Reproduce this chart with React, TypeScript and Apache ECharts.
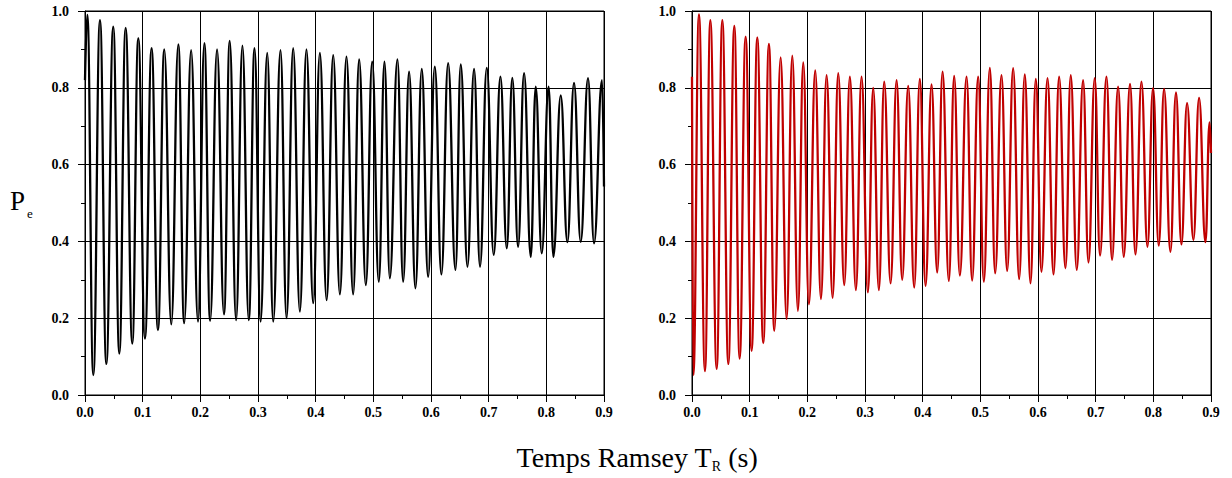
import React, { useEffect, useRef } from "react";
import * as echarts from "echarts";

// Left panel (black) — extrema
const leftT = [0, 0.004, 0.0144, 0.026, 0.037, 0.049, 0.0595, 0.0705, 0.082, 0.0924, 0.104, 0.1155, 0.1265, 0.1375, 0.1496, 0.1618, 0.172, 0.184, 0.196, 0.207, 0.217, 0.229, 0.241, 0.251, 0.262, 0.273, 0.284, 0.294, 0.3045, 0.316, 0.3264, 0.339, 0.3495, 0.361, 0.3726, 0.384, 0.3957, 0.4073, 0.419, 0.4304, 0.442, 0.4534, 0.465, 0.4754, 0.487, 0.498, 0.5095, 0.5193, 0.5286, 0.5418, 0.5517, 0.562, 0.573, 0.584, 0.595, 0.6066, 0.618, 0.6297, 0.6424, 0.6516, 0.6632, 0.6747, 0.685, 0.6967, 0.7088, 0.7204, 0.7314, 0.741, 0.751, 0.7614, 0.773, 0.7816, 0.792, 0.804, 0.8122, 0.825, 0.8365, 0.848, 0.8596, 0.8723, 0.8827, 0.8966, 0.9];
const leftP = [0.82, 0.99, 0.052, 0.976, 0.081, 0.959, 0.108, 0.956, 0.134, 0.929, 0.147, 0.903, 0.169, 0.9, 0.184, 0.913, 0.187, 0.898, 0.191, 0.916, 0.193, 0.9, 0.21, 0.922, 0.195, 0.91, 0.195, 0.903, 0.191, 0.891, 0.191, 0.898, 0.2, 0.903, 0.217, 0.9, 0.239, 0.891, 0.247, 0.885, 0.262, 0.881, 0.262, 0.874, 0.286, 0.868, 0.295, 0.868, 0.304, 0.874, 0.295, 0.842, 0.278, 0.849, 0.308, 0.855, 0.314, 0.864, 0.326, 0.861, 0.334, 0.849, 0.334, 0.852, 0.365, 0.829, 0.382, 0.826, 0.386, 0.838, 0.36, 0.803, 0.369, 0.803, 0.36, 0.78, 0.398, 0.813, 0.399, 0.825, 0.395, 0.82, 0.543];

// Right panel (red)
const rightT = [0, 0.0023, 0.0121, 0.0225, 0.0318, 0.0428, 0.0526, 0.063, 0.0734, 0.0826, 0.093, 0.1034, 0.1132, 0.1236, 0.1334, 0.1427, 0.1537, 0.1641, 0.1739, 0.1837, 0.1929, 0.2028, 0.2137, 0.2236, 0.2334, 0.2438, 0.2536, 0.264, 0.2738, 0.2842, 0.294, 0.305, 0.3142, 0.3241, 0.3333, 0.3444, 0.3548, 0.3645, 0.3749, 0.3853, 0.3951, 0.405, 0.4154, 0.4252, 0.4345, 0.4454, 0.4546, 0.4645, 0.4761, 0.4858, 0.4962, 0.5061, 0.5165, 0.5257, 0.5367, 0.5465, 0.5569, 0.5673, 0.5771, 0.587, 0.5962, 0.606, 0.6165, 0.6269, 0.6366, 0.6476, 0.6568, 0.6672, 0.6782, 0.6875, 0.6984, 0.7076, 0.7187, 0.7284, 0.7389, 0.7487, 0.7596, 0.769, 0.7794, 0.7898, 0.7995, 0.8094, 0.8186, 0.8296, 0.8393, 0.8487, 0.8585, 0.8695, 0.8793, 0.8904, 0.8975, 0.9];
const rightP = [0.829, 0.052, 0.991, 0.0625, 0.976, 0.068, 0.976, 0.081, 0.961, 0.095, 0.933, 0.115, 0.931, 0.135, 0.914, 0.167, 0.879, 0.198, 0.884, 0.219, 0.866, 0.236, 0.845, 0.25, 0.833, 0.253, 0.838, 0.286, 0.829, 0.273, 0.829, 0.267, 0.8, 0.273, 0.816, 0.291, 0.82, 0.3, 0.805, 0.28, 0.823, 0.284, 0.809, 0.319, 0.842, 0.297, 0.831, 0.311, 0.829, 0.298, 0.829, 0.295, 0.852, 0.317, 0.833, 0.323, 0.851, 0.302, 0.835, 0.291, 0.823, 0.321, 0.825, 0.314, 0.829, 0.33, 0.833, 0.326, 0.82, 0.345, 0.825, 0.363, 0.829, 0.352, 0.803, 0.36, 0.81, 0.366, 0.816, 0.386, 0.799, 0.389, 0.797, 0.373, 0.788, 0.392, 0.76, 0.404, 0.774, 0.398, 0.71, 0.63];

const xTickLabels = ["0.0", "0.1", "0.2", "0.3", "0.4", "0.5", "0.6", "0.7", "0.8", "0.9"];
const yTickLabels = ["0.0", "0.2", "0.4", "0.6", "0.8", "1.0"];
const xTitle = "Temps Ramsey T";
const xTitleSub = "R";
const xTitleUnit = " (s)";
const yTitle = "P";
const yTitleSub = "e";

const SERIF = "'Liberation Serif', 'Times New Roman', serif";

function makeX(gridIndex: number) {
  return {
    type: "value",
    gridIndex,
    min: 0,
    max: 0.9,
    interval: 0.1,
    axisLine: { show: true, onZero: false, lineStyle: { color: "#000", width: 1 } },
    axisTick: { show: true, inside: false, length: 7, lineStyle: { color: "#000", width: 1 } },
    minorTick: { show: true, splitNumber: 2, length: 4, lineStyle: { color: "#000", width: 1 } },
    splitLine: { show: true, lineStyle: { color: "#000", width: 1 } },
    axisLabel: {
      margin: 10,
      color: "#000",
      fontFamily: SERIF,
      fontWeight: "bold",
      fontSize: 14,
      formatter: (v: number) => xTickLabels[Math.round(v * 10)] ?? "",
    },
  };
}

function makeY(gridIndex: number) {
  return {
    type: "value",
    gridIndex,
    min: 0,
    max: 1,
    interval: 0.2,
    axisLine: { show: true, onZero: false, lineStyle: { color: "#000", width: 1 } },
    axisTick: { show: true, inside: false, length: 7, lineStyle: { color: "#000", width: 1 } },
    minorTick: { show: true, splitNumber: 2, length: 4, lineStyle: { color: "#000", width: 1 } },
    splitLine: { show: true, lineStyle: { color: "#000", width: 1 } },
    axisLabel: {
      margin: 16,
      color: "#000",
      fontFamily: SERIF,
      fontWeight: "bold",
      fontSize: 14,
      formatter: (v: number) => yTickLabels[Math.round(v * 5)] ?? "",
    },
  };
}

export default function App() {
  const ref = useRef<HTMLDivElement>(null);
  useEffect(() => {
    if (!ref.current) return;
    const chart = echarts.init(ref.current, undefined, { renderer: "svg" });
    const leftData = leftT.map((t, i) => [t, leftP[i]]);
    const rightData = rightT.map((t, i) => [t, rightP[i]]);
    chart.setOption({
      animation: false,
      backgroundColor: "#fff",
      grid: [
        { left: 85, top: 11, width: 519, height: 384, show: true, borderColor: "#000", borderWidth: 1, backgroundColor: "transparent" },
        { left: 692, top: 11, width: 519, height: 384, show: true, borderColor: "#000", borderWidth: 1, backgroundColor: "transparent" },
      ],
      xAxis: [makeX(0), makeX(1)],
      yAxis: [makeY(0), makeY(1)],
      series: [
        {
          type: "line",
          xAxisIndex: 0,
          yAxisIndex: 0,
          data: leftData,
          showSymbol: false,
          smooth: 0.45,
          smoothMonotone: "x",
          lineStyle: { color: "#000", width: 2.3 },
          z: 3,
        },
        {
          type: "line",
          xAxisIndex: 1,
          yAxisIndex: 1,
          data: rightData,
          showSymbol: false,
          smooth: 0.45,
          smoothMonotone: "x",
          lineStyle: { color: "#c00000", width: 2.3 },
          z: 3,
        },
      ],
      graphic: [
        {
          type: "text",
          style: {
            x: 10,
            y: 214,
            text: "{p|" + yTitle + "}{e|" + yTitleSub + "}",
            verticalAlign: "bottom",
            rich: {
              p: { fontFamily: SERIF, fontSize: 27, fill: "#000", verticalAlign: "bottom" },
              e: { fontFamily: SERIF, fontSize: 13, fill: "#000", verticalAlign: "bottom", padding: [0, 0, -6, 2] },
            },
          },
        },
        {
          type: "text",
          style: {
            x: 637,
            y: 471,
            align: "center",
            verticalAlign: "bottom",
            text: "{a|" + xTitle + "}{b|" + xTitleSub + "}{a|" + xTitleUnit + "}",
            rich: {
              a: { fontFamily: SERIF, fontSize: 28, fill: "#000", verticalAlign: "bottom" },
              b: { fontFamily: SERIF, fontSize: 14, fill: "#000", verticalAlign: "bottom", padding: [0, 0, -2, 0] },
            },
          },
        },
      ],
    });
    return () => chart.dispose();
  }, []);
  return <div ref={ref} style={{ position: "fixed", left: 0, top: 0, width: 1232, height: 478 }} />;
}
